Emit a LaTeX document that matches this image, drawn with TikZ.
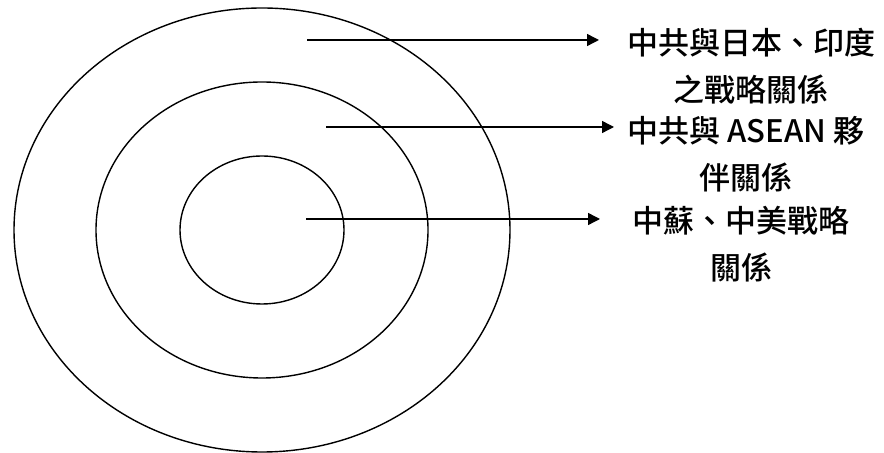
\documentclass[tikz,border=0pt]{standalone}
\usepackage{fontspec}
\newfontfamily\cjk{Noto Sans CJK TC Medium}
\usepackage{tikz}
\usetikzlibrary{arrows.meta, positioning}

\begin{document}
\begin{tikzpicture}[
  ring/.style={line width=0.7pt},
  pointer/.style={line width=0.7pt, -{Triangle[length=6pt,width=6pt]}},
  label/.style={align=center, inner sep=0pt, font=\cjk\fontsize{15.5}{23.5}\selectfont}
]
\begin{scope}[x=0.5pt,y=-0.5pt]
  \useasboundingbox (0,0) rectangle (884,453);
  \coordinate (ctr) at (262,230);
  \foreach \rx/\ry in {248/222,166/148,82/74} {\draw[ring] (ctr) ellipse ({\rx*0.5pt} and {\ry*0.5pt});}
  \coordinate (outerstart) at (307,40);
  \coordinate (outerend) at (599,40);
  \coordinate (midstart) at (326,127);
  \coordinate (midend) at (614,127);
  \coordinate (innerstart) at (306,219);
  \coordinate (innerend) at (600,219);
  \node[label] (outerlab) at (751,66) {中共與日本、印度\\之戰略關係};
  \node[label] (midlab) at (746,154) {中共與 ASEAN 夥\\伴關係};
  \node[label] (innerlab) at (741,244) {中蘇、中美戰略\\關係};
  \draw[pointer] (outerstart) -- (outerend);
  \draw[pointer] (midstart) -- (midend);
  \draw[pointer] (innerstart) -- (innerend);
\end{scope}
\end{tikzpicture}
\end{document}
